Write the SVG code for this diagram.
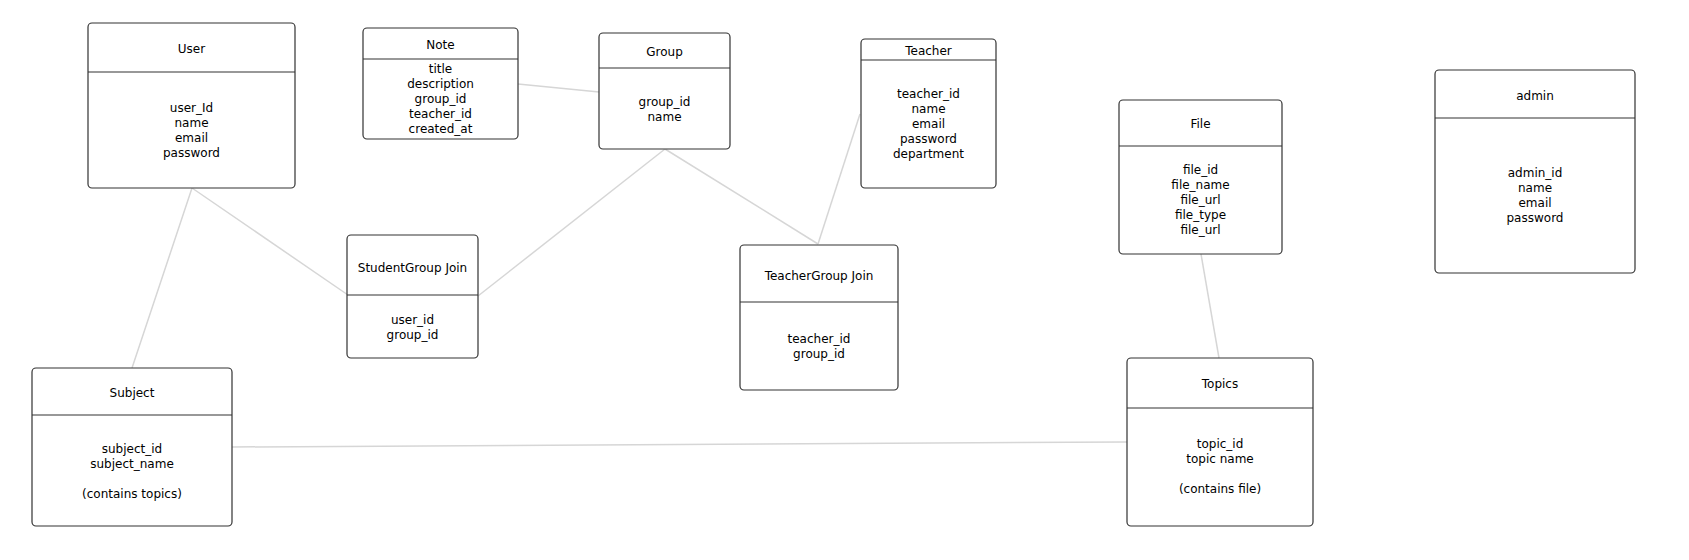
<svg xmlns="http://www.w3.org/2000/svg" width="1689" height="560" viewBox="0 0 1689 560">
<style>
.box{fill:#fff;stroke:#333;stroke-width:1.2}
.div{stroke:#333;stroke-width:1.2}
.conn{stroke:#d6d6d6;stroke-width:1.5;fill:none}
text{font-family:"DejaVu Sans",Verdana,sans-serif;font-size:12px;fill:#000;text-anchor:middle;dominant-baseline:central}
</style>
<rect width="1689" height="560" fill="#fff"/>
<g transform="translate(0,1)">
<g id="connectors">
<line class="conn" x1="518" y1="83" x2="599" y2="91"/>
<line class="conn" x1="192" y1="187" x2="348" y2="294"/>
<line class="conn" x1="192" y1="187" x2="132" y2="367"/>
<line class="conn" x1="478" y1="295" x2="665" y2="148"/>
<line class="conn" x1="665" y1="148" x2="818" y2="243"/>
<line class="conn" x1="860" y1="113" x2="818" y2="243"/>
<line class="conn" x1="1201" y1="253" x2="1219" y2="357"/>
<line class="conn" x1="232" y1="446" x2="1127" y2="441"/>
</g>
<g id="user">
<rect class="box" x="88" y="22" width="207" height="165" rx="4"/>
<line class="div" x1="88" y1="71" x2="295" y2="71"/>
<text x="191.5" y="48">User</text>
<text x="191.5" y="107">user_Id</text>
<text x="191.5" y="122">name</text>
<text x="191.5" y="137">email</text>
<text x="191.5" y="152">password</text>
</g>
<g id="note">
<rect class="box" x="363" y="27" width="155" height="111" rx="4"/>
<line class="div" x1="363" y1="58" x2="518" y2="58"/>
<text x="440.5" y="44">Note</text>
<text x="440.5" y="68">title</text>
<text x="440.5" y="83">description</text>
<text x="440.5" y="98">group_id</text>
<text x="440.5" y="113">teacher_id</text>
<text x="440.5" y="128">created_at</text>
</g>
<g id="group">
<rect class="box" x="599" y="32" width="131" height="116" rx="4"/>
<line class="div" x1="599" y1="67" x2="730" y2="67"/>
<text x="664.5" y="51">Group</text>
<text x="664.5" y="101">group_id</text>
<text x="664.5" y="116">name</text>
</g>
<g id="teacher">
<rect class="box" x="861" y="38" width="135" height="149" rx="4"/>
<line class="div" x1="861" y1="59" x2="996" y2="59"/>
<text x="928.5" y="50">Teacher</text>
<text x="928.5" y="93">teacher_id</text>
<text x="928.5" y="108">name</text>
<text x="928.5" y="123">email</text>
<text x="928.5" y="138">password</text>
<text x="928.5" y="153">department</text>
</g>
<g id="file">
<rect class="box" x="1119" y="99" width="163" height="154" rx="4"/>
<line class="div" x1="1119" y1="145" x2="1282" y2="145"/>
<text x="1200.5" y="123">File</text>
<text x="1200.5" y="169">file_id</text>
<text x="1200.5" y="184">file_name</text>
<text x="1200.5" y="199">file_url</text>
<text x="1200.5" y="214">file_type</text>
<text x="1200.5" y="229">file_url</text>
</g>
<g id="admin">
<rect class="box" x="1435" y="69" width="200" height="203" rx="4"/>
<line class="div" x1="1435" y1="117" x2="1635" y2="117"/>
<text x="1535" y="95">admin</text>
<text x="1535" y="172">admin_id</text>
<text x="1535" y="187">name</text>
<text x="1535" y="202">email</text>
<text x="1535" y="217">password</text>
</g>
<g id="studentgroup">
<rect class="box" x="347" y="234" width="131" height="123" rx="4"/>
<line class="div" x1="347" y1="294" x2="478" y2="294"/>
<text x="412.5" y="267">StudentGroup Join</text>
<text x="412.5" y="319">user_id</text>
<text x="412.5" y="334">group_id</text>
</g>
<g id="teachergroup">
<rect class="box" x="740" y="244" width="158" height="145" rx="4"/>
<line class="div" x1="740" y1="301" x2="898" y2="301"/>
<text x="819" y="275">TeacherGroup Join</text>
<text x="819" y="338">teacher_id</text>
<text x="819" y="353">group_id</text>
</g>
<g id="subject">
<rect class="box" x="32" y="367" width="200" height="158" rx="4"/>
<line class="div" x1="32" y1="414" x2="232" y2="414"/>
<text x="132" y="392">Subject</text>
<text x="132" y="448">subject_id</text>
<text x="132" y="463">subject_name</text>
<text x="132" y="493">(contains topics)</text>
</g>
<g id="topics">
<rect class="box" x="1127" y="357" width="186" height="168" rx="4"/>
<line class="div" x1="1127" y1="407" x2="1313" y2="407"/>
<text x="1220" y="383">Topics</text>
<text x="1220" y="443">topic_id</text>
<text x="1220" y="458">topic name</text>
<text x="1220" y="488">(contains file)</text>
</g>
</g>
</svg>
